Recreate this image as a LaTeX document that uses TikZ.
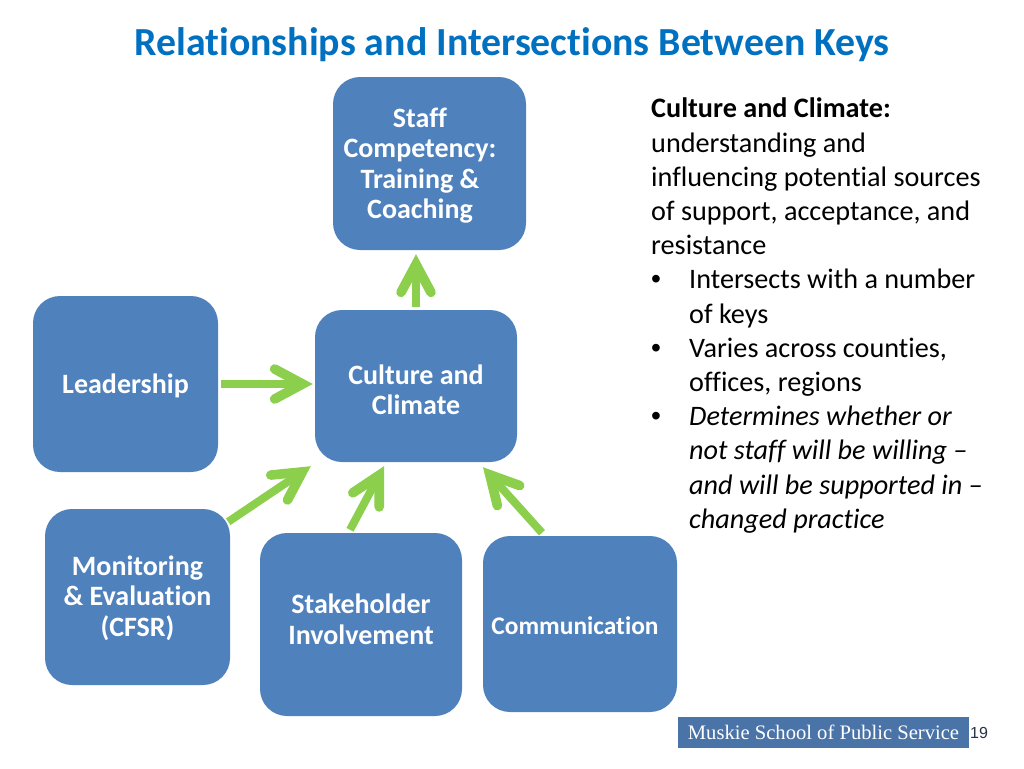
\documentclass[tikz,border=0pt]{standalone}
\usepackage{fontspec}
\setmainfont{Carlito}[Ligatures=NoCommon]
\newfontfamily\logofont{Liberation Serif}
\newfontfamily\pagefont{Liberation Sans}
\usetikzlibrary{arrows.meta}
\definecolor{keyblue}{RGB}{79,129,189}
\definecolor{linkgreen}{RGB}{139,207,77}
\definecolor{titleblue}{RGB}{0,112,192}
\definecolor{logoblue}{RGB}{74,116,168}
\definecolor{pagegray}{RGB}{40,50,70}

\begin{document}
\begin{tikzpicture}[
    x=1pt, y=-1pt,
    >={Straight Barb[length=28pt, width=30pt, line width=0pt 1.2, line cap=round]},
    keybox/.style={fill=keyblue, rounded corners=27pt, inner sep=0pt,
        align=center, text=white, font=\fontsize{28}{30.5}\selectfont\bfseries},
    keylink/.style={->, linkgreen, line width=8pt}
]
\def\pad{\rule{19pt}{0pt}}
\def\bul{\makebox[38pt][l]{\pagefont•}}

% ============================================================
% Page and title
% ============================================================
\useasboundingbox (0,0) rectangle (1024,768);

\node[text=titleblue, font=\fontsize{39.8}{44}\selectfont\bfseries] (title) at (512,45)
    {Relationships and Intersections Between Keys};

% ============================================================
% Keys
% ============================================================
\node[keybox, minimum width=193pt, minimum height=173pt] (staff) at (429.5,163.5)
    {\rule{0pt}{23.5pt}Staff\pad\\ Competency:\pad\\ Training \&\pad\\ Coaching\pad};
\node[keybox, minimum width=185pt, minimum height=176pt] (leadership) at (125.5,384)
    {\rule{0pt}{23pt}Leadership};
\node[keybox, minimum width=202pt, minimum height=152pt] (culture) at (416,386)
    {\rule{0pt}{27pt}Culture and\\ Climate};
\node[keybox, minimum width=185pt, minimum height=176pt] (monitoring) at (137.5,597)
    {\rule{0pt}{22pt}Monitoring\\ \& Evaluation\\ (CFSR)};
\node[keybox, minimum width=202pt, minimum height=183pt] (stakeholder) at (361,624.5)
    {Stakeholder\\ Involvement\rule[-11pt]{0pt}{1pt}};
\node[keybox, minimum width=194pt, minimum height=176pt,
      font=\fontsize{25.4}{28}\selectfont\bfseries] (communication) at (580,624)
    {\rule{0pt}{21pt}Communication\rule{10pt}{0pt}};

% ============================================================
% Links
% ============================================================
\draw[keylink] ([yshift=3pt]culture.north) -- ([xshift=-13.5pt,yshift=-4pt]staff.south);
\draw[keylink] ([xshift=3pt]leadership.east) -- ([xshift=-2pt,yshift=2pt]culture.west);
\draw[keylink] ([xshift=-2pt,yshift=-13pt]monitoring.north east) -- ([xshift=-4pt,yshift=-4pt]culture.south west);
\draw[keylink] ([xshift=-11pt,yshift=3pt]stakeholder.north) -- ([xshift=-32pt,yshift=-4pt]culture.south);
\draw[keylink] ([xshift=-38pt,yshift=3pt]communication.north) -- ([xshift=67pt,yshift=-5pt]culture.south);

% ============================================================
% Notes
% ============================================================
\node[anchor=north west, inner sep=0pt, align=left, text=black,
      font=\fontsize{28.2}{34.2}\selectfont] (notes) at (651,98) {%
    \textbf{Culture and Climate:}\\
    understanding and\\
    influencing potential sources\\
    of support, acceptance, and\\
    resistance\\
    \bul Intersects with a number\\
    \hspace*{38pt}of keys\\
    \bul Varies across counties,\\
    \hspace*{38pt}offices, regions\\
    \bul\textit{Determines whether or}\\
    \hspace*{38pt}\textit{not staff will be willing --}\\
    \hspace*{38pt}\textit{and will be supported in --}\\
    \hspace*{38pt}\textit{changed practice}};

% ============================================================
% Footer
% ============================================================
\node[fill=logoblue, text=white, inner sep=0pt, minimum width=291pt, minimum height=31pt,
      font=\logofont\fontsize{20.6}{24}\selectfont] (logo) at (823.5,732.5)
    {Muskie School of Public Service};
\node[anchor=west, inner sep=0pt, text=pagegray,
      font=\pagefont\fontsize{16}{18}\selectfont] (page) at (970,733) {19};

\end{tikzpicture}
\end{document}
